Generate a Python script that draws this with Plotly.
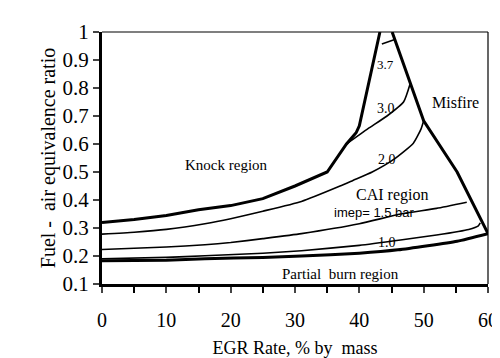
import plotly.graph_objects as go

# Boundaries (thick)
knock_x = [0, 5, 10, 15, 20, 25, 30, 35, 38, 39.5, 40, 43.2]
knock_y = [0.32, 0.33, 0.345, 0.365, 0.38, 0.405, 0.45, 0.5, 0.6, 0.64, 0.665, 1.0]
misfire_x = [45.1, 50, 55.2, 60]
misfire_y = [1.0, 0.683, 0.5, 0.28]
partial_x = [0, 10, 16, 25, 31, 40, 46, 55.2, 60]
partial_y = [0.183, 0.185, 0.19, 0.195, 0.2, 0.21, 0.222, 0.253, 0.28]

# imep curves (thin)
c10_x = [0, 10, 16, 25, 31, 40, 46.4, 52, 57, 58.5, 58.8]
c10_y = [0.19, 0.195, 0.201, 0.21, 0.219, 0.238, 0.257, 0.275, 0.295, 0.308, 0.318]
c15_x = [0, 10, 16, 20, 25, 31, 40, 46.4, 52, 56.7]
c15_y = [0.223, 0.232, 0.24, 0.248, 0.262, 0.28, 0.315, 0.35, 0.37, 0.392]
c20_x = [0, 5, 10, 16, 20, 25, 31, 37, 39, 42, 45.4, 48.4, 49.6, 50]
c20_y = [0.278, 0.285, 0.295, 0.315, 0.333, 0.36, 0.395, 0.45, 0.47, 0.5, 0.546, 0.603, 0.654, 0.683]
c30_x = [38, 41.3, 44.3, 46.9, 47.9]
c30_y = [0.6, 0.654, 0.7, 0.751, 0.815]
c37_x = [43.5, 45.4]
c37_y = [0.957, 0.972]

labels = ["Knock region", "Misfire", "3.7", "3.0", "2.0", "CAI region", "1.0", "Partial\u00a0 burn region"]
label_x = [19.4, 55.0, 44.1, 44.1, 44.3, 45.1, 44.3, 37.0]
label_y = [0.524, 0.747, 0.884, 0.726, 0.546, 0.418, 0.249, 0.135]
label_size = [15, 16, 13, 14, 14, 16, 14, 15]
imep_label = "imep= 1.5 bar"
imep_pos = (42.3, 0.356)

SERIF = "Liberation Serif, Times New Roman, serif"

fig = go.Figure()
thick = dict(color="black", width=3)
thin = dict(color="black", width=1.6)
for xs, ys, ln, shp in [
    (knock_x, knock_y, thick, "linear"), (misfire_x, misfire_y, thick, "linear"),
    (partial_x, partial_y, thick, "spline"),
    (c10_x, c10_y, thin, "spline"), (c15_x, c15_y, thin, "spline"), (c20_x, c20_y, thin, "spline"),
    (c30_x, c30_y, thin, "spline"), (c37_x, c37_y, thin, "linear")]:
    fig.add_trace(go.Scatter(x=xs, y=ys, mode="lines",
                             line=dict(shape=shp, **({"smoothing": 0.5} if shp == "spline" else {}), **ln),
                             showlegend=False, hoverinfo="skip"))

for t, x, y, s in zip(labels, label_x, label_y, label_size):
    fig.add_annotation(x=x, y=y, text=t, showarrow=False,
                       font=dict(family=SERIF, size=s, color="black"))
fig.add_annotation(x=imep_pos[0], y=imep_pos[1], text=imep_label, showarrow=False,
                   font=dict(family="Liberation Sans, Arial, sans-serif", size=13, color="black"))

# thin top/right frame
fig.add_shape(type="line", xref="paper", yref="paper", x0=0, x1=1, y0=1, y1=1, line=dict(color="black", width=1.2))
fig.add_shape(type="line", xref="paper", yref="paper", x0=1, x1=1, y0=0, y1=1, line=dict(color="black", width=1.2))

fig.update_layout(
    width=500, height=358,
    margin=dict(l=94, r=10, t=24, b=71),
    plot_bgcolor="white", paper_bgcolor="white",
    font=dict(family=SERIF, size=19, color="black"),
    xaxis=dict(range=[0, 60], dtick=10, ticks="outside", ticklen=6, tickwidth=2,
               showline=True, linewidth=3, linecolor="black", showgrid=False, zeroline=False,
               minor=dict(dtick=5, ticks="outside", ticklen=6, tickwidth=2, tickcolor="black"),
               tickfont=dict(family=SERIF, size=20, color="black"), ticklabelstandoff=10,
               title=dict(text="EGR Rate, % by\u00a0 mass", font=dict(family=SERIF, size=18), standoff=12)),
    yaxis=dict(range=[0.1, 1], dtick=0.1, ticks="outside", ticklen=6, tickwidth=2,
               showline=True, linewidth=3, linecolor="black", showgrid=False, zeroline=False,
               tickfont=dict(family=SERIF, size=21, color="black"),
               title=dict(text="Fuel -\u00a0 air equivalence ratio", font=dict(family=SERIF, size=20), standoff=2)),
)
fig.write_html("out.html")
